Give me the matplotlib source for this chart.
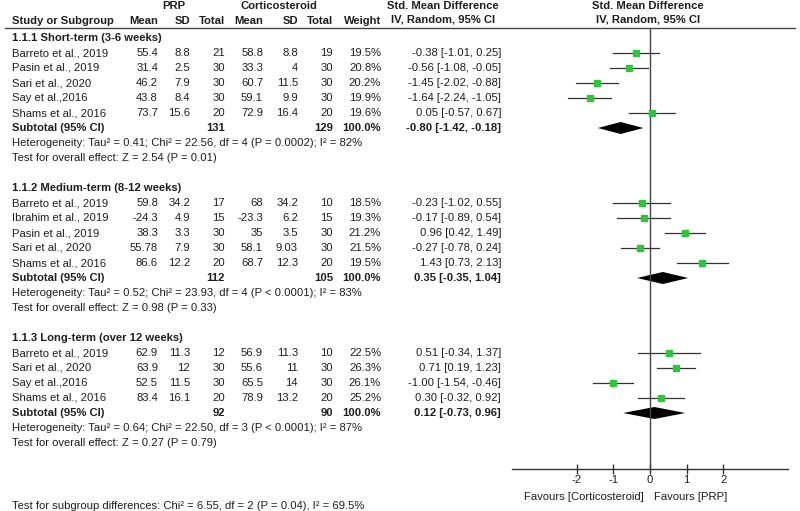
import numpy as np
import matplotlib
matplotlib.use('Agg')
import matplotlib.pyplot as plt

plt.rcParams['font.family'] = ['Liberation Sans', 'DejaVu Sans']

# ---- data ----
group_titles = ['1.1.1 Short-term (3-6 weeks)',
                '1.1.2 Medium-term (8-12 weeks)',
                '1.1.3 Long-term (over 12 weeks)']

studies = [
    ['Barreto et al., 2019', 'Pasin et al., 2019', 'Sari et al., 2020', 'Say et al.,2016', 'Shams et al., 2016'],
    ['Barreto et al., 2019', 'Ibrahim et al., 2019', 'Pasin et al., 2019', 'Sari et al., 2020', 'Shams et al., 2016'],
    ['Barreto et al., 2019', 'Sari et al., 2020', 'Say et al.,2016', 'Shams et al., 2016'],
]
prp_mean = [['55.4', '31.4', '46.2', '43.8', '73.7'],
            ['59.8', '-24.3', '38.3', '55.78', '86.6'],
            ['62.9', '63.9', '52.5', '83.4']]
prp_sd = [['8.8', '2.5', '7.9', '8.4', '15.6'],
          ['34.2', '4.9', '3.3', '7.9', '12.2'],
          ['11.3', '12', '11.5', '16.1']]
prp_n = [[21, 30, 30, 30, 20], [17, 15, 30, 30, 20], [12, 30, 30, 20]]
cs_mean = [['58.8', '33.3', '60.7', '59.1', '72.9'],
           ['68', '-23.3', '35', '58.1', '68.7'],
           ['56.9', '55.6', '65.5', '78.9']]
cs_sd = [['8.8', '4', '11.5', '9.9', '16.4'],
         ['34.2', '6.2', '3.5', '9.03', '12.3'],
         ['11.3', '11', '14', '13.2']]
cs_n = [[19, 30, 30, 30, 20], [10, 15, 30, 30, 20], [10, 30, 30, 20]]
weight = [[19.5, 20.8, 20.2, 19.9, 19.6],
          [18.5, 19.3, 21.2, 21.5, 19.5],
          [22.5, 26.3, 26.1, 25.2]]
smd = [[-0.38, -0.56, -1.45, -1.64, 0.05],
       [-0.23, -0.17, 0.96, -0.27, 1.43],
       [0.51, 0.71, -1.00, 0.30]]
lo = [[-1.01, -1.08, -2.02, -2.24, -0.57],
      [-1.02, -0.89, 0.42, -0.78, 0.73],
      [-0.34, 0.19, -1.54, -0.32]]
hi = [[0.25, -0.05, -0.88, -1.05, 0.67],
      [0.55, 0.54, 1.49, 0.24, 2.13],
      [1.37, 1.23, -0.46, 0.92]]

sub_prp_n = [131, 112, 92]
sub_cs_n = [129, 105, 90]
sub_smd = [-0.80, 0.35, 0.12]
sub_lo = [-1.42, -0.35, -0.73]
sub_hi = [-0.18, 1.04, 0.96]

het_text = ['Heterogeneity: Tau\u00b2 = 0.41; Chi\u00b2 = 22.56, df = 4 (P = 0.0002); I\u00b2 = 82%',
            'Heterogeneity: Tau\u00b2 = 0.52; Chi\u00b2 = 23.93, df = 4 (P < 0.0001); I\u00b2 = 83%',
            'Heterogeneity: Tau\u00b2 = 0.64; Chi\u00b2 = 22.50, df = 3 (P < 0.0001); I\u00b2 = 87%']
effect_text = ['Test for overall effect: Z = 2.54 (P = 0.01)',
               'Test for overall effect: Z = 0.98 (P = 0.33)',
               'Test for overall effect: Z = 0.27 (P = 0.79)']
subgroup_text = 'Test for subgroup differences: Chi\u00b2 = 6.55, df = 2 (P = 0.04), I\u00b2 = 69.5%'

xticks = [-2, -1, 0, 1, 2]

# ---- layout ----
fig = plt.figure(figsize=(8, 5.11), dpi=100)
tc = '#1e1e1e'
fs = 8.1

ax0 = fig.add_axes([0, 0, 1, 1])
ax0.set_xlim(0, 800)
ax0.set_ylim(511, 0)
ax0.axis('off')

top, pitch = 38, 15
row_y = lambda k: top + pitch * k

# headers
ax0.text(174, 6, 'PRP', ha='center', va='center', fontsize=fs, fontweight='bold', color=tc)
ax0.text(279, 6, 'Corticosteroid', ha='center', va='center', fontsize=fs, fontweight='bold', color=tc)
ax0.text(443, 6, 'Std. Mean Difference', ha='center', va='center', fontsize=fs, fontweight='bold', color=tc)
ax0.text(443, 20, 'IV, Random, 95% CI', ha='center', va='center', fontsize=fs, fontweight='bold', color=tc)
ax0.text(648, 6, 'Std. Mean Difference', ha='center', va='center', fontsize=fs, fontweight='bold', color=tc)
ax0.text(648, 20, 'IV, Random, 95% CI', ha='center', va='center', fontsize=fs, fontweight='bold', color=tc)

ax0.text(12, 21, 'Study or Subgroup', ha='left', va='center', fontsize=fs, fontweight='bold', color=tc)
col_x = [158, 190, 225, 263, 298, 333, 381]
for x, h in zip(col_x, ['Mean', 'SD', 'Total', 'Mean', 'SD', 'Total', 'Weight']):
    ax0.text(x, 21, h, ha='right', va='center', fontsize=fs, fontweight='bold', color=tc)
ax0.plot([5, 795], [28.5, 28.5], color='#444444', lw=1.0)

rows = []  # (row index, smd, lo, hi, weight) for the plot
k = 0
for g in range(3):
    ax0.text(12, row_y(k), group_titles[g], ha='left', va='center', fontsize=fs, fontweight='bold', color=tc)
    k += 1
    for i, name in enumerate(studies[g]):
        y = row_y(k)
        ax0.text(12, y, name, ha='left', va='center', fontsize=fs, color=tc)
        vals = [prp_mean[g][i], prp_sd[g][i], str(prp_n[g][i]),
                cs_mean[g][i], cs_sd[g][i], str(cs_n[g][i]), '%.1f%%' % weight[g][i]]
        for x, v in zip(col_x, vals):
            ax0.text(x, y, v, ha='right', va='center', fontsize=fs, color=tc)
        ax0.text(501, y, '%.2f [%.2f, %.2f]' % (smd[g][i], lo[g][i], hi[g][i]),
                 ha='right', va='center', fontsize=fs, color=tc)
        rows.append((k, smd[g][i], lo[g][i], hi[g][i], weight[g][i]))
        k += 1
    y = row_y(k)
    ax0.text(12, y, 'Subtotal (95% CI)', ha='left', va='center', fontsize=fs, fontweight='bold', color=tc)
    ax0.text(col_x[2], y, str(sub_prp_n[g]), ha='right', va='center', fontsize=fs, fontweight='bold', color=tc)
    ax0.text(col_x[5], y, str(sub_cs_n[g]), ha='right', va='center', fontsize=fs, fontweight='bold', color=tc)
    ax0.text(col_x[6], y, '100.0%', ha='right', va='center', fontsize=fs, fontweight='bold', color=tc)
    ax0.text(501, y, '%.2f [%.2f, %.2f]' % (sub_smd[g], sub_lo[g], sub_hi[g]),
             ha='right', va='center', fontsize=fs, fontweight='bold', color=tc)
    rows.append((k, None, sub_lo[g], sub_hi[g], sub_smd[g]))
    k += 1
    ax0.text(12, row_y(k), het_text[g], ha='left', va='center', fontsize=fs, color=tc)
    k += 1
    ax0.text(12, row_y(k), effect_text[g], ha='left', va='center', fontsize=fs, color=tc)
    k += 2

ax0.text(12, 506, subgroup_text, ha='left', va='center', fontsize=fs, color=tc)

# ---- forest plot axes ----
ax = fig.add_axes([512 / 800, 1 - 469 / 511, 276 / 800, (469 - 28.5) / 511])
ax.patch.set_alpha(0)
ax.set_xlim(-3.76, 3.76)
ax.set_ylim((469 - top) / pitch, (28.5 - top) / pitch)
for s in ['top', 'left', 'right']:
    ax.spines[s].set_visible(False)
ax.spines['bottom'].set_color('#333333')
ax.spines['bottom'].set_linewidth(1.0)
ax.set_yticks([])
ax.set_xticks(xticks)
ax.set_xticklabels([str(t) for t in xticks])
ax.tick_params(axis='x', direction='inout', length=7, width=1.0, colors='#333333',
               labelsize=fs, labelcolor=tc, pad=1)
ax.axvline(0, color='#444444', lw=1.0)

for r, est, l, h, extra in rows:
    if est is None:
        dh = 0.4
        ax.fill([l, extra, h, extra], [r, r - dh, r, r + dh], color='black', lw=0)
    else:
        ax.plot([l, h], [r, r], color='#333333', lw=0.9)
        ax.plot(est, r, 's', color='#33c23f', markersize=0.85 * np.sqrt(extra), mec='#33c23f')

ax0.text(644, 497, 'Favours [Corticosteroid]', ha='right', va='center', fontsize=fs, color=tc)
ax0.text(654, 497, 'Favours [PRP]', ha='left', va='center', fontsize=fs, color=tc)

fig.savefig('out.png', dpi=100)
